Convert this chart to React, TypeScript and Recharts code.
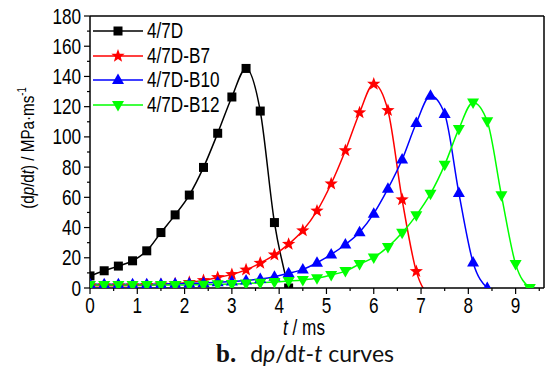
import React from "react";
import {
  LineChart,
  Line,
  XAxis,
  YAxis,
  Legend,
  ReferenceLine,
  Label,
} from "recharts";

// time grid (ms), every 0.3 ms
const times = [
  0, 0.3, 0.6, 0.9, 1.2, 1.5, 1.8, 2.1, 2.4, 2.7, 3.0, 3.3, 3.6, 3.9, 4.2, 4.5,
  4.8, 5.1, 5.4, 5.7, 6.0, 6.3, 6.6, 6.9, 7.2, 7.5, 7.8, 8.1, 8.4, 8.7, 9.0, 9.3,
];

// dp/dt values (MPa/ms)
const d47 = [8, 11.4, 14.5, 18, 24.6, 36.7, 48.4, 61.5, 79.8, 102.4, 126.4, 145.3, 117.1, 43.3, 0];
const d47B7 = [
  1.5, 1.5, 1.5, 1.6, 1.8, 2.2, 2.8, 3.8, 5, 7, 9, 12, 16.5, 22, 29, 38, 51, 69, 91, 116,
  135, 117.5, 58.5, 11, -6,
];
const d47B10 = [
  2.5, 2.5, 2.5, 2.5, 2.5, 2.6, 2.8, 3, 3.3, 3.8, 4.3, 5, 6, 7.5, 9.7, 12.3, 16.7, 22.2,
  28.8, 36.9, 49.2, 65.7, 85, 109.2, 127.2, 115.2, 62.8, 16.9, 0,
];
const d47B12 = [
  2, 2, 2, 2, 2, 2, 2, 2.1, 2.2, 2.4, 2.6, 3, 3.4, 4, 4.6, 5.3, 6.4, 8.6, 11.2, 15.8, 20.2,
  27.2, 36.5, 48.1, 62.4, 81.5, 105.3, 122.8, 110.3, 61.3, 15.8, 0,
];

const xTicks = [0, 0.5, 1, 1.5, 2, 2.5, 3, 3.5, 4, 4.5, 5, 5.5, 6, 6.5, 7, 7.5, 8, 8.5, 9, 9.5];
const yTicks = [0, 10, 20, 30, 40, 50, 60, 70, 80, 90, 100, 110, 120, 130, 140, 150, 160, 170, 180];

type Shape = "square" | "star" | "up" | "down";

const series: { name: string; values: number[]; color: string; shape: Shape }[] = [
  { name: "4/7D", values: d47, color: "#000000", shape: "square" },
  { name: "4/7D-B7", values: d47B7, color: "#ff0000", shape: "star" },
  { name: "4/7D-B10", values: d47B10, color: "#0000ff", shape: "up" },
  { name: "4/7D-B12", values: d47B12, color: "#00ff00", shape: "down" },
];

const toRows = (values: number[]) => values.map((v, i) => ({ t: times[i], v }));

const FONT = "'Liberation Sans', Arial, Helvetica, sans-serif";
const SQUEEZE = 0.78;

function Marker({ shape, cx, cy, color }: { shape: Shape; cx: number; cy: number; color: string }) {
  if (shape === "square") {
    return <rect x={cx - 4.5} y={cy - 4.5} width={9} height={9} fill={color} />;
  }
  if (shape === "up") {
    return <polygon points={`${cx},${cy - 6.5} ${cx + 6},${cy + 4} ${cx - 6},${cy + 4}`} fill={color} />;
  }
  if (shape === "down") {
    return <polygon points={`${cx - 6},${cy - 4} ${cx + 6},${cy - 4} ${cx},${cy + 6.5}`} fill={color} />;
  }
  const pts: string[] = [];
  for (let k = 0; k < 10; k++) {
    const r = k % 2 === 0 ? 7 : 2.9;
    const a = -Math.PI / 2 + (k * Math.PI) / 5;
    pts.push(`${cx + r * Math.cos(a)},${cy + r * Math.sin(a)}`);
  }
  return <polygon points={pts.join(" ")} fill={color} />;
}

const XTick = (props: any) => {
  const { x, y, payload } = props;
  const v = payload.value;
  const major = Number.isInteger(v);
  return (
    <g>
      <line x1={x} x2={x} y1={y} y2={y + (major ? 6 : 3)} stroke="#000" strokeWidth={1.2} />
      {major && (
        <text
          transform={`translate(${x},${y + 25}) scale(${SQUEEZE},1)`}
          textAnchor="middle"
          fontSize={22}
          fontFamily={FONT}
          fill="#000"
        >
          {v}
        </text>
      )}
    </g>
  );
};

const YTick = (props: any) => {
  const { x, y, payload } = props;
  const v = payload.value;
  const major = v % 20 === 0;
  return (
    <g>
      <line x1={x - (major ? 6 : 3)} x2={x} y1={y} y2={y} stroke="#000" strokeWidth={1.2} />
      {major && (
        <text
          transform={`translate(${x - 9},${y + 7.5}) scale(${SQUEEZE},1)`}
          textAnchor="end"
          fontSize={22}
          fontFamily={FONT}
          fill="#000"
        >
          {v}
        </text>
      )}
    </g>
  );
};

const YTitle = () => (
  <text
    transform="translate(34,148) rotate(-90) scale(0.8,1)"
    textAnchor="middle"
    fontSize={19}
    fontFamily={FONT}
    fill="#000"
  >
    (d<tspan fontStyle="italic">p</tspan>/d<tspan fontStyle="italic">t</tspan>) / MPa·ms
    <tspan dy={-8} fontSize={12}>-1</tspan>
  </text>
);

const XTitle = (props: any) => {
  const { viewBox } = props;
  const cx = viewBox.x + viewBox.width / 2;
  return (
    <text
      transform={`translate(${cx - 13},${viewBox.y + 47}) scale(${SQUEEZE},1)`}
      textAnchor="middle"
      fontSize={22}
      fontFamily={FONT}
      fill="#000"
    >
      <tspan fontStyle="italic">t</tspan> / ms
    </text>
  );
};

const LegendBox = () => (
  <div style={{ fontFamily: FONT }}>
    {series.map((s) => (
      <div key={s.name} style={{ height: 24.5, display: "flex", alignItems: "center" }}>
        <svg width={54} height={16} style={{ display: "block" }}>
          <line x1={0} x2={50} y1={8} y2={8} stroke={s.color} strokeWidth={1.5} />
          <Marker shape={s.shape} cx={25} cy={8} color={s.color} />
        </svg>
        <span
          style={{
            display: "inline-block",
            fontSize: 22,
            lineHeight: "24px",
            transform: `scaleX(${SQUEEZE})`,
            transformOrigin: "left center",
            whiteSpace: "nowrap",
          }}
        >
          {s.name}
        </span>
      </div>
    ))}
  </div>
);

export default function App() {
  return (
    <div style={{ position: "absolute", left: 0, top: 0, width: 548, height: 368, background: "#fff" }}>
      <LineChart width={548} height={340} margin={{ top: 16, right: 4, bottom: 0, left: 0 }}>
        <XAxis
          dataKey="t"
          type="number"
          domain={[0, 9.6]}
          allowDataOverflow
          ticks={xTicks}
          interval={0}
          tick={<XTick />}
          tickLine={false}
          tickSize={0}
          tickMargin={0}
          height={52}
          axisLine={{ stroke: "#000", strokeWidth: 1.5 }}
        >
          <Label content={<XTitle />} />
        </XAxis>
        <YAxis
          type="number"
          domain={[0, 180]}
          allowDataOverflow
          ticks={yTicks}
          interval={0}
          tick={<YTick />}
          tickLine={false}
          tickSize={0}
          tickMargin={0}
          width={90}
          axisLine={{ stroke: "#000", strokeWidth: 1.5 }}
        >
          <Label content={<YTitle />} />
        </YAxis>
        <ReferenceLine y={180} stroke="#000" strokeWidth={1.5} />
        <ReferenceLine x={9.6} stroke="#000" strokeWidth={1.5} />
        {series.map((s) => (
          <Line
            key={s.name}
            data={toRows(s.values)}
            dataKey="v"
            name={s.name}
            type="monotone"
            stroke={s.color}
            strokeWidth={1.5}
            isAnimationActive={false}
            dot={(p: any) => <Marker key={p.index} shape={s.shape} cx={p.cx} cy={p.cy} color={s.color} />}
            activeDot={false}
          />
        ))}
        <Legend
          layout="vertical"
          align="center"
          verticalAlign="middle"
          content={<LegendBox />}
          wrapperStyle={{ left: 93, top: 19, width: 200, height: 100 }}
        />
      </LineChart>
      <div
        style={{
          position: "absolute",
          left: 216,
          top: 339,
          fontSize: 23,
          lineHeight: "28px",
          fontFamily: "Lato, 'Open Sans', sans-serif",
          whiteSpace: "nowrap",
          color: "#111",
        }}
      >
        <span style={{ fontFamily: "'Liberation Serif', serif", fontWeight: "bold", fontSize: 25 }}>b.</span>
        <span style={{ marginLeft: 14 }}>
          d<i>p</i>/d<i>t</i>-<i>t</i> curves
        </span>
      </div>
    </div>
  );
}
